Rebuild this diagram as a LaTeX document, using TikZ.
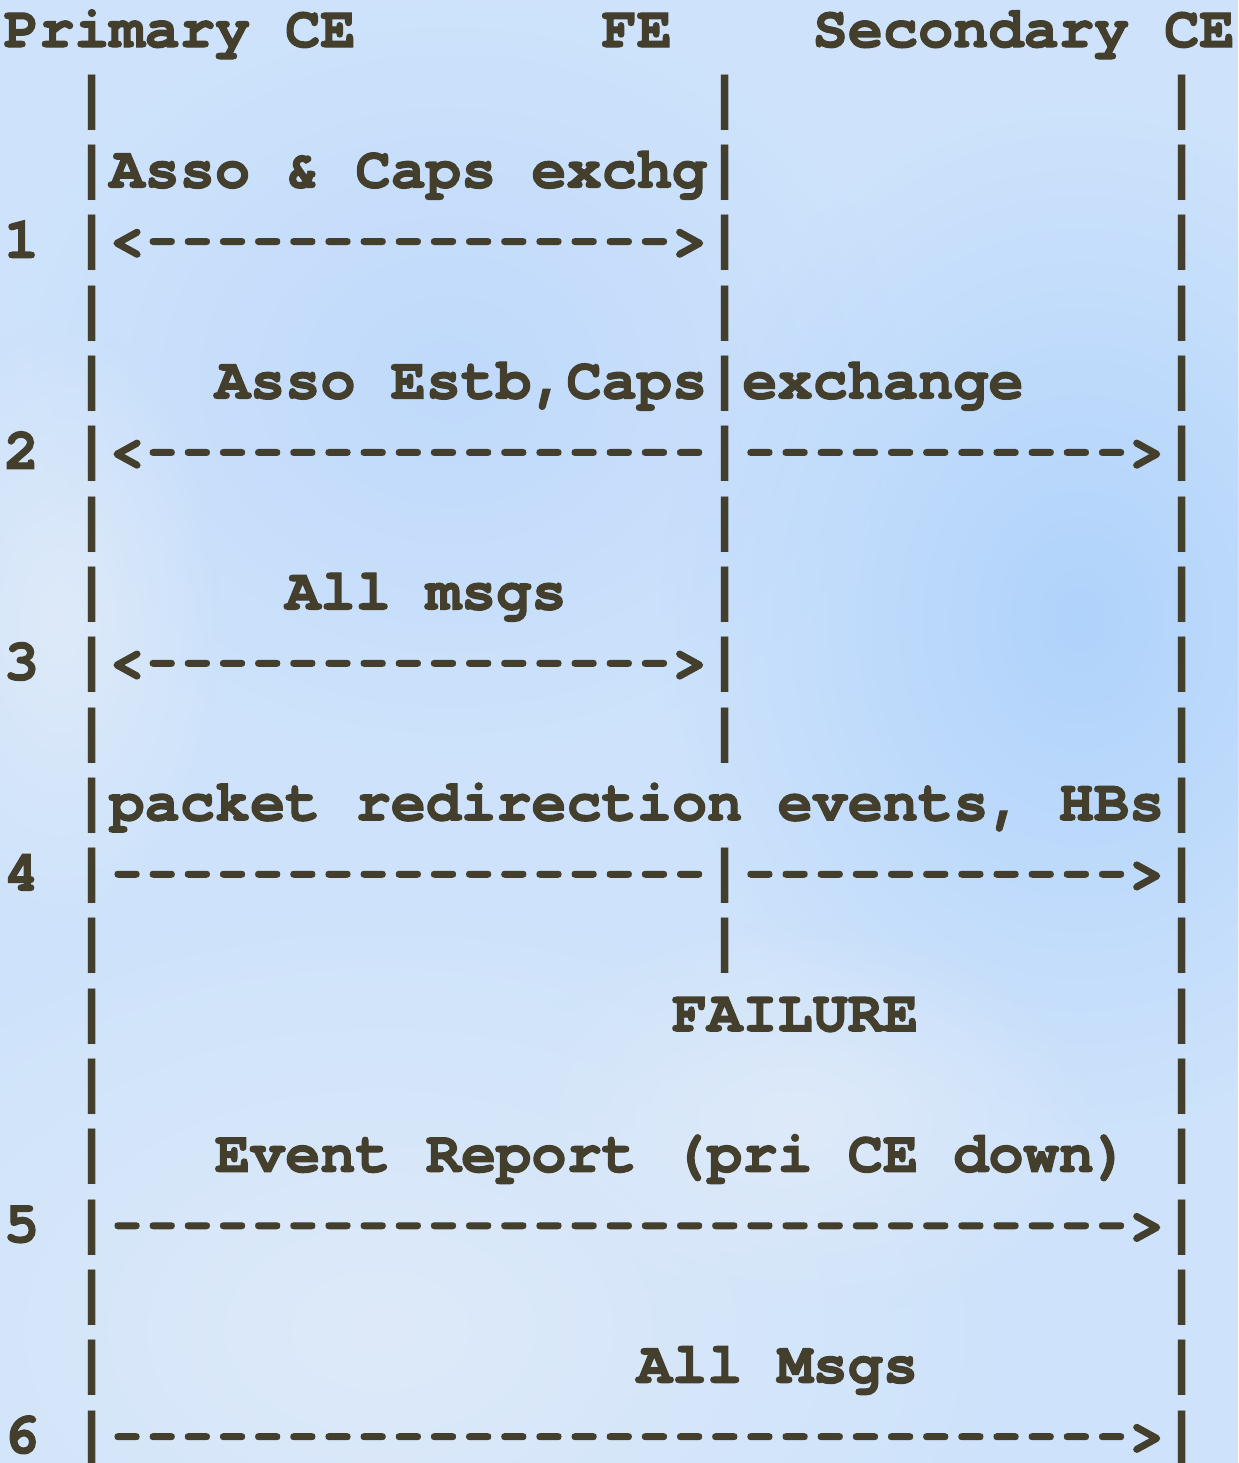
\documentclass[tikz,border=0pt]{standalone}
\usepackage{fontspec}
\newfontfamily\asciimono{TeX Gyre Cursor}[Ligatures=TeXOff, BoldFeatures={FakeBold=2}]
\newfontfamily\rulefont{Liberation Mono}[Ligatures=TeXOff]
\usetikzlibrary{fadings}
\definecolor{ink}{RGB}{68,63,44}
\definecolor{skybase}{RGB}{206,227,251}
\definecolor{skydeep}{RGB}{176,211,251}
\definecolor{skymid}{RGB}{192,218,251}
\definecolor{skypale}{RGB}{222,234,249}
\tikzfading[name=softblob, inner color=transparent!0, outer color=transparent!100]
% column c, row r of the character grid (1 unit = 1 px)
\newcommand\tok[4]{\node[glyphs] (#1) at ({4+#2*35.16},{47+#3*70.3}) {#4};}
\newcommand\bars[2]{\foreach \c in {#2}{\node[glyphs] (bar-#1-\c) at ({4+\c*35.16},{47+#1*70.3}) {\rulefont|};}}
% a run of n hyphens, each a little shorter than its character cell
\newcommand\dsh[1]{\foreach \k in {1,...,#1}{\makebox[0.6em]{\scalebox{0.8}[1]{-}}}}
\begin{document}
\begin{tikzpicture}[x=0.5pt,y=-0.5pt,
  glyphs/.style={anchor=base west, inner sep=0pt, outer sep=0pt, text=ink,
    font=\asciimono\bfseries\fontsize{29.3pt}{35pt}\selectfont}]
% backdrop
\fill[skybase] (0,0) rectangle (1238,1463);
\useasboundingbox (0,0) rectangle (1238,1463);
\fill[skymid, path fading=softblob] (450,380) ellipse [x radius=450, y radius=380];
\fill[skydeep, path fading=softblob] (1080,620) ellipse [x radius=420, y radius=520];
\fill[skypale, path fading=softblob] (380,1330) ellipse [x radius=620, y radius=420];
\fill[skypale, path fading=softblob] (60,620) ellipse [x radius=160, y radius=300];
\fill[skypale, path fading=softblob] (800,1120) ellipse [x radius=300, y radius=200];

% header
\tok{hdr-pce}{0}{0}{Primary CE}
\tok{hdr-fe}{17}{0}{FE}
\tok{hdr-sce}{23}{0}{Secondary CE}

% step 1
\bars{1}{2,20,33}
\bars{2}{2,20,33}
\tok{lab1}{3}{2}{Asso \& Caps exchg}
\tok{num1}{0}{3}{1}
\bars{3}{2,20,33}
\tok{arr1}{3}{3}{<\dsh{15}>}

% step 2
\bars{4}{2,20,33}
\bars{5}{2,20,33}
\tok{lab2a}{6}{5}{Asso Estb,Caps}
\tok{lab2b}{21}{5}{exchange}
\tok{num2}{0}{6}{2}
\bars{6}{2,20,33}
\tok{arr2a}{3}{6}{<\dsh{16}}
\tok{arr2b}{21}{6}{\dsh{11}>}

% step 3
\bars{7}{2,20,33}
\bars{8}{2,20,33}
\tok{lab3}{8}{8}{All msgs}
\tok{num3}{0}{9}{3}
\bars{9}{2,20,33}
\tok{arr3}{3}{9}{<\dsh{15}>}

% step 4
\bars{10}{2,20,33}
\bars{11}{2,33}
\tok{lab4}{3}{11}{packet redirection events, HBs}
\tok{num4}{0}{12}{4}
\bars{12}{2,20,33}
\tok{arr4a}{3}{12}{\dsh{17}}
\tok{arr4b}{21}{12}{\dsh{11}>}

% failure
\bars{13}{2,20,33}
\bars{14}{2,33}
\tok{fail}{19}{14}{FAILURE}
\bars{15}{2,33}

% step 5
\bars{16}{2,33}
\tok{lab5}{6}{16}{Event Report (pri CE down)}
\tok{num5}{0}{17}{5}
\bars{17}{2,33}
\tok{arr5}{3}{17}{\dsh{29}>}

% step 6
\bars{18}{2,33}
\bars{19}{2,33}
\tok{lab6}{18}{19}{All Msgs}
\tok{num6}{0}{20}{6}
\bars{20}{2,33}
\tok{arr6}{3}{20}{\dsh{29}>}
\end{tikzpicture}
\end{document}
